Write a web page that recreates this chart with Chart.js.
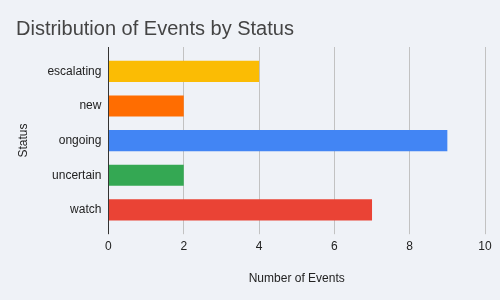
<!DOCTYPE html>
<html>
<head>
<meta charset="utf-8">
<script src="https://cdn.jsdelivr.net/npm/chart.js@4"></script>
<style>
  html,body{margin:0;padding:0;background:#eff2f7}
  #wrap{width:500px;height:300px;position:relative}
</style>
</head>
<body>
<div id="wrap"><canvas id="c"></canvas></div>
<script>
'use strict';
// ══ Distribution of Events by Status ══
const statuses=['escalating','new','ongoing','uncertain','watch'];
const eventCounts=[4,2,9,2,7];
const barColors=['#fbbc04','#ff6d01','#4285f4','#34a853','#ea4335'];
const xTicks=[0,2,4,6,8,10];

const FONT="'Liberation Sans', Arial, sans-serif";
Chart.defaults.font.family=FONT;
Chart.defaults.color='#222';
const GRID='#c2c2c2', ZERO='#333';
const lineCol=ctx=>ctx.tick&&ctx.tick.value===0?ZERO:GRID;
const setTicks=ax=>{ax.ticks=xTicks.map(v=>({value:v}))};

new Chart(document.getElementById('c'),{
  type:'bar',
  data:{labels:statuses,datasets:[{label:'Events',data:eventCounts,backgroundColor:barColors,borderWidth:0,barPercentage:0.61,categoryPercentage:1}]},
  options:{
    indexAxis:'y',responsive:true,maintainAspectRatio:false,animation:false,
    layout:{padding:{left:16,right:15,top:4,bottom:8}},
    plugins:{
      legend:{display:false},tooltip:{enabled:false},
      title:{display:true,text:'Distribution of Events by Status',align:'start',color:'#444',
        font:{size:20,weight:'normal',family:FONT},padding:{top:13,bottom:6}}
    },
    scales:{
      x:{min:0,max:10,afterBuildTicks:setTicks,
        grid:{color:lineCol,tickColor:lineCol,drawTicks:true,tickLength:7},
        border:{display:false},
        ticks:{font:{size:12},color:'#222',padding:5},
        title:{display:true,text:'Number of Events',font:{size:12},color:'#222',padding:{top:13,bottom:6}}},
      x2:{position:'top',axis:'x',min:0,max:10,afterBuildTicks:setTicks,
        grid:{drawOnChartArea:false,tickColor:lineCol,drawTicks:true,tickLength:7},
        border:{display:false},ticks:{display:false}},
      y:{grid:{display:false,drawTicks:false},border:{display:false},
        ticks:{font:{size:12},color:'#222',padding:7},
        title:{display:true,text:'Status',font:{size:12},color:'#222',padding:{top:0,bottom:10}}}
    }
  }
});
</script>
</body>
</html>
